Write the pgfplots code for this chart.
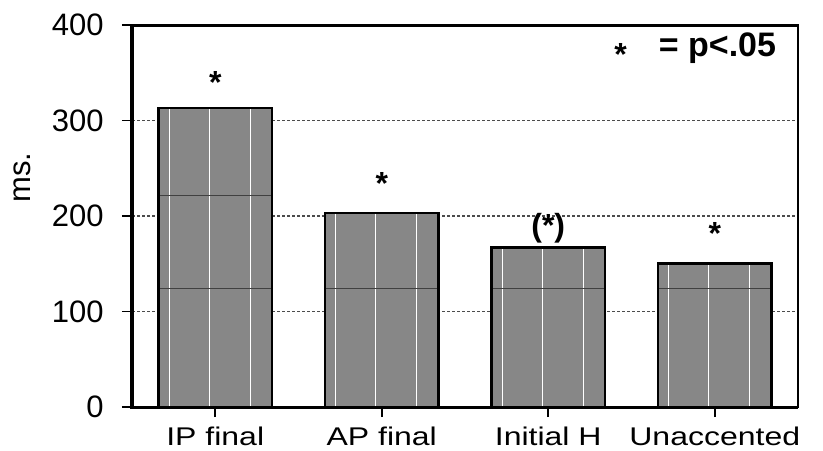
\documentclass[border=0pt]{standalone}
\usepackage{fontspec}
\setmainfont{Liberation Sans}
\usepackage{pgfplots}
\usepackage{pgfplotstable}
\pgfplotsset{compat=1.18}

% mean difference per condition (ms)
\pgfplotstableread{
x val
0 313
1 203
2 167
3 150
}\latency

\begin{document}
\fontsize{15.5}{18}\selectfont
\begin{tikzpicture}
\begin{axis}[
  width=333pt, height=191pt, scale only axis,
  xmin=-0.5, xmax=3.5, ymin=0, ymax=400,
  xtick=data,
  xticklabels={IP final, AP final, Initial H, Unaccented},
  ytick={0,100,200,300,400},
  /pgf/number format/assume math mode=true,
  tick label style={font=\fontsize{15.5}{18}\selectfont},
  tick align=outside, xtick pos=bottom, ytick pos=left,
  major tick length=5pt,
  every tick/.style={black, line width=0.8pt},
  axis line style={line width=0.6pt},
  ymajorgrids,
  major grid style={black!70, line width=0.75pt, dash pattern=on 1.6pt off 0.9pt},
  xticklabel style={font=\fontsize{16}{18}\selectfont, inner sep=0pt, yshift=-5pt, yscale=0.8},
  yticklabel style={inner sep=1pt, xshift=-8pt},
  clip=false,
]
% bar bodies
\addplot[ybar, bar width=0.68, fill=black!47, draw=none] table[x=x, y=val]{\latency};
% light seams inside the bars
\addplot[ycomb, white, line width=0.5pt, mark=none] table[x expr=\thisrow{x}-0.277, y=val]{\latency};
\addplot[ycomb, white, line width=0.5pt, mark=none] table[x expr=\thisrow{x}-0.035, y=val]{\latency};
\addplot[ycomb, white, line width=0.5pt, mark=none] table[x expr=\thisrow{x}+0.21, y=val]{\latency};
% dark seams across the bars
\foreach \c in {0,1,2,3}{
  \edef\tmp{\noexpand\draw[black!75, line width=0.5pt] (axis cs:\c-0.34,124) -- (axis cs:\c+0.34,124);}
  \tmp
}
\draw[black!75, line width=0.5pt] (axis cs:-0.34,221) -- (axis cs:0.34,221);
% bar outlines
\addplot[ybar, bar width=0.68, fill=none, draw=black, line width=1.3pt] table[x=x, y=val]{\latency};
% heavy frame on left, top and bottom
\draw[line width=1.5pt] (rel axis cs:1,1) -- (rel axis cs:0,1) -- (rel axis cs:0,0) -- (rel axis cs:1,0);
% significance markers
\node[font=\fontsize{16}{18}\selectfont\bfseries] at (axis cs:0,340) {*};
\node[font=\fontsize{16}{18}\selectfont\bfseries] at (axis cs:1,234.5) {*};
\node[font=\fontsize{16}{18}\selectfont\bfseries] at (axis cs:2,187) {(*)};
\node[font=\fontsize{16}{18}\selectfont\bfseries] at (axis cs:3,182) {*};
\node[font=\fontsize{16}{18}\selectfont\bfseries] at (axis cs:2.434,368.6) {*};
\node[font=\fontsize{17}{20}\selectfont\bfseries, anchor=west, inner sep=0pt] at (axis cs:2.662,376) {= p<.05};
% y label
\node[rotate=90] at ([xshift=-55pt]rel axis cs:0,0.6) {ms.};
\coordinate (sw) at (rel axis cs:0,0);
\coordinate (ne) at (rel axis cs:1,1);
\end{axis}
\pgfresetboundingbox
\path ([shift={(-66pt,-21.5pt)}]sw) rectangle ([shift={(12.5pt,12.5pt)}]ne);
\end{tikzpicture}
\end{document}
